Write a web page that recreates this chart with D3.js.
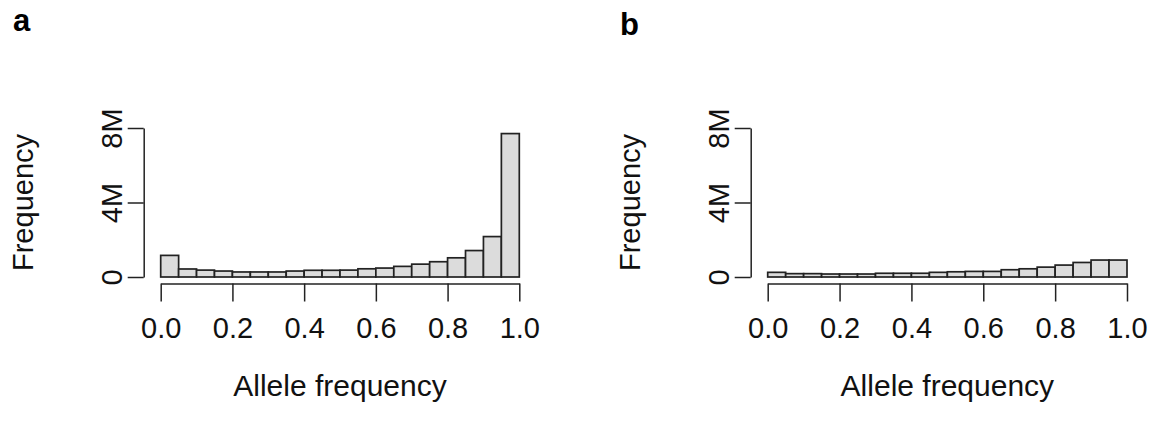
<!DOCTYPE html>
<html>
<head>
<meta charset="utf-8">
<script src="https://cdn.jsdelivr.net/npm/d3@7"></script>
<style>
  body { margin: 0; background: #fff; }
  svg { display: block; font-family: "Liberation Sans", Arial, sans-serif; }
</style>
</head>
<body>
<div id="chart"></div>
<script>
// bin starts (width 0.05), counts in millions
const binStarts = [0, 0.05, 0.1, 0.15, 0.2, 0.25, 0.3, 0.35, 0.4, 0.45,
                   0.5, 0.55, 0.6, 0.65, 0.7, 0.75, 0.8, 0.85, 0.9, 0.95];
const countsA = [1.16, 0.43, 0.37, 0.32, 0.27, 0.27, 0.27, 0.32, 0.36, 0.36,
                 0.37, 0.44, 0.48, 0.57, 0.69, 0.82, 1.03, 1.42, 2.17, 7.7];
const countsB = [0.25, 0.18, 0.18, 0.16, 0.16, 0.16, 0.2, 0.2, 0.2, 0.25,
                 0.28, 0.3, 0.3, 0.39, 0.44, 0.53, 0.64, 0.78, 0.91, 0.91];
const xTicks = [0, 0.2, 0.4, 0.6, 0.8, 1.0];
const yTicks = [0, 4, 8];
const yTickLabels = ["0", "4M", "8M"];
const binWidth = 0.05;

const svg = d3.select("#chart").append("svg")
    .attr("width", 1152)
    .attr("height", 428);

const panels = [
    { label: "a", counts: countsA, x0: 160.7, x1: 519.3, labelX: 13, labelY: 31 },
    { label: "b", counts: countsB, x0: 767.7, x1: 1127, labelX: 620, labelY: 35 }
];

const yTop = 128, yBase = 277;

panels.forEach(p => {
    const g = svg.append("g");
    const x = d3.scaleLinear().domain([0, 1]).range([p.x0, p.x1]);
    const y = d3.scaleLinear().domain([0, 8]).range([yBase, yTop]);

    // bars
    g.selectAll("rect.bar")
        .data(binStarts.map((s, i) => ({ s: s, v: p.counts[i] })))
        .enter()
        .append("rect")
        .attr("class", "bar")
        .attr("x", d => x(d.s))
        .attr("y", d => y(d.v))
        .attr("width", d => x(d.s + binWidth) - x(d.s))
        .attr("height", d => y(0) - y(d.v))
        .attr("fill", "#dcdcdc")
        .attr("stroke", "#222")
        .attr("stroke-width", 1.7);

    // x axis
    const xAxis = g.append("g")
        .attr("transform", `translate(0,${yBase + 6.5})`)
        .call(d3.axisBottom(x).tickValues(xTicks).tickFormat(d3.format(".1f"))
            .tickSize(18).tickSizeOuter(0).tickPadding(16));
    xAxis.select(".domain").attr("stroke", "#222").attr("stroke-width", 1.5);
    xAxis.selectAll(".tick line").attr("stroke", "#222").attr("stroke-width", 1.5);
    xAxis.selectAll(".tick text")
        .attr("font-size", "29px")
        .attr("fill", "#111");

    // y axis
    const yAxis = g.append("g")
        .attr("transform", `translate(${p.x0 - 17},0)`)
        .call(d3.axisLeft(y).tickValues(yTicks).tickFormat((d, i) => yTickLabels[i])
            .tickSize(16).tickSizeOuter(0));
    yAxis.select(".domain").attr("stroke", "#222").attr("stroke-width", 1.5);
    yAxis.selectAll(".tick line").attr("stroke", "#222").attr("stroke-width", 1.5);
    yAxis.selectAll(".tick text")
        .attr("font-size", "29px")
        .attr("fill", "#111")
        .attr("x", null).attr("dy", null)
        .attr("text-anchor", "middle")
        .attr("dominant-baseline", "central")
        .attr("transform", "translate(-32,0) rotate(-90)");

    // axis titles
    g.append("text")
        .attr("x", (p.x0 + p.x1) / 2)
        .attr("y", 385)
        .attr("text-anchor", "middle")
        .attr("dominant-baseline", "central")
        .attr("font-size", "30px")
        .attr("fill", "#111")
        .text("Allele frequency");

    g.append("text")
        .attr("transform", `translate(${p.x0 - 138},${(yTop + yBase) / 2}) rotate(-90)`)
        .attr("text-anchor", "middle")
        .attr("dominant-baseline", "central")
        .attr("font-size", "29px")
        .attr("fill", "#111")
        .text("Frequency");

    // panel letter
    g.append("text")
        .attr("x", p.labelX)
        .attr("y", p.labelY)
        .attr("font-size", "31px")
        .attr("font-weight", "bold")
        .attr("fill", "#000")
        .text(p.label);
});
</script>
</body>
</html>
